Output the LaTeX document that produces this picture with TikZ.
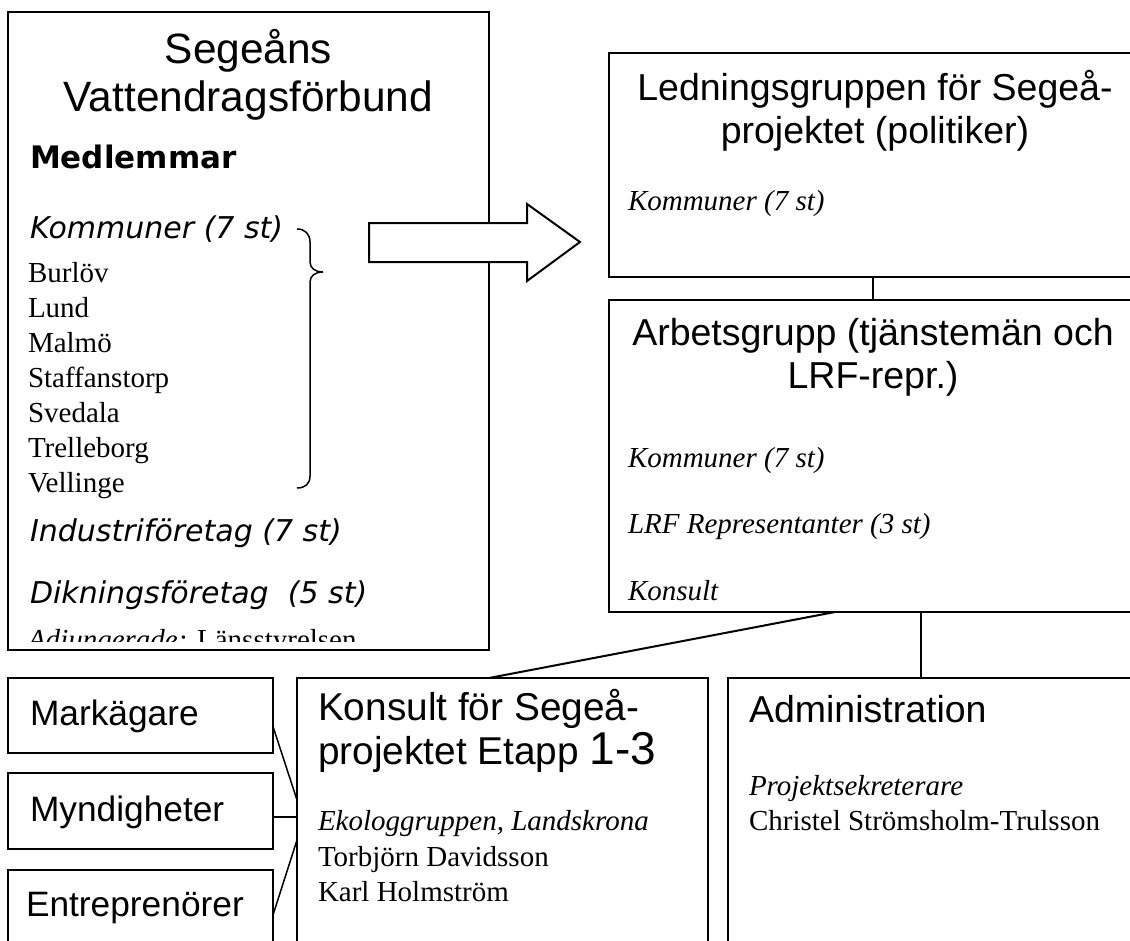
\documentclass[tikz,border=0pt]{standalone}
\usepackage{fontspec}
\setmainfont{Liberation Serif}
\newfontfamily\arialf{Liberation Sans}
\newfontfamily\verdf{DejaVu Sans}
\usetikzlibrary{calc}
\begin{document}
\begin{tikzpicture}[x=1pt,y=-1pt,
  box/.style={draw, line width=2pt, fill=white, rectangle, inner sep=0pt, outer sep=0pt, anchor=north west},
  conn/.style={line width=2pt},
  txt/.style={inner sep=0pt, outer sep=0pt, anchor=base west},
  ctxt/.style={inner sep=0pt, outer sep=0pt, anchor=base},
  bigtitle/.style={font=\arialf\fontsize{42.4}{48}\selectfont},
  title/.style={font=\arialf\fontsize{37.5}{43}\selectfont},
  vbold/.style={font=\verdf\bfseries\fontsize{31}{37}\selectfont},
  vital/.style={font=\verdf\itshape\fontsize{30}{36}\selectfont},
  tnorm/.style={font=\fontsize{29}{35}\selectfont},
  tital/.style={font=\itshape\fontsize{29}{35}\selectfont}
]
\clip (0,0) rectangle (1130,940);
\fill[white] (0,0) rectangle (1130,940);

% left box
\node[box, minimum width=481, minimum height=638] (sv) at (8,12) {};
\node[ctxt, bigtitle] (sv1) at (248.5,63) {Segeåns};
\node[ctxt, bigtitle] (sv2) at (248.5,111) {Vattendragsförbund};
\node[txt, vbold] (med) at (30,168) {Medlemmar};
\node[txt, vital] (kom) at (30,238) {Kommuner (7 st)};
\node[txt, tnorm] (m1) at (28,282) {Burlöv};
\node[txt, tnorm] (m2) at (28,317) {Lund};
\node[txt, tnorm] (m3) at (28,352) {Malmö};
\node[txt, tnorm] (m4) at (28,387) {Staffanstorp};
\node[txt, tnorm] (m5) at (28,422) {Svedala};
\node[txt, tnorm] (m6) at (28,457) {Trelleborg};
\node[txt, tnorm] (m7) at (28,492) {Vellinge};
\node[txt, vital] (ind) at (30,541) {Industriföretag (7 st)};
\node[txt, vital] (dik) at (30,603) {Dikningsföretag~~(5 st)};
\begin{scope}
  \clip (10,14) rectangle (487,641);
  \node[txt, tnorm] (adj) at (28,649) {\itshape Adjungerade:\upshape{} Länsstyrelsen};
\end{scope}

% brace
\draw[line width=1.5pt] (297,229) .. controls (305,229) and (310,234) .. (310,242)
  -- (310,262) .. controls (310,268) and (315,272) .. (323,272)
  .. controls (315,272) and (310,276) .. (310,282)
  -- (310,476) .. controls (310,484) and (305,488) .. (297,488);

% block arrow
\draw[line width=2pt, fill=white, line join=miter] (369,223) -- (527,223) -- (527,204) -- (580,242)
  -- (527,281) -- (527,262) -- (369,262) -- cycle;

% Ledningsgruppen
\node[box, minimum width=528, minimum height=224] (lg) at (609,53) {};
\node[ctxt, title] (lg1) at (875,100) {Ledningsgruppen för Segeå-};
\node[ctxt, title] (lg2) at (875,143) {projektet (politiker)};
\node[txt, tital] (lg3) at (628,210) {Kommuner (7 st)};

% Arbetsgrupp
\node[box, minimum width=528, minimum height=312] (ag) at (609,300) {};
\node[ctxt, title] (ag1) at (873,345) {Arbetsgrupp (tjänstemän och};
\node[ctxt, title] (ag2) at (873,388) {LRF-repr.)};
\node[txt, tital] (ag3) at (628,467) {Kommuner (7 st)};
\node[txt, tital] (ag4) at (628,533) {LRF Representanter (3 st)};
\node[txt, tital] (ag5) at (628,600) {Konsult};

% Konsult
\node[box, minimum width=411, minimum height=330] (ko) at (297,678) {};
\node[txt, font=\arialf\fontsize{38.8}{44}\selectfont] (ko1) at (318,720) {Konsult för Segeå-};
\node[txt, font=\arialf\fontsize{38.8}{44}\selectfont] (ko2) at (318,764) {projektet Etapp {\fontsize{46}{50}\selectfont 1-3}};
\node[txt, tital] (ko3) at (318,830) {Ekologgruppen, Landskrona};
\node[txt, tnorm] (ko4) at (318,866) {Torbjörn Davidsson};
\node[txt, tnorm] (ko5) at (318,901) {Karl Holmström};

% Administration
\node[box, minimum width=420, minimum height=330] (ad) at (728,678) {};
\node[txt, title] (ad1) at (749,722) {Administration};
\node[txt, tital] (ad2) at (749,795) {Projektsekreterare};
\node[txt, tnorm] (ad3) at (749,830) {Christel Strömsholm-Trulsson};

% small boxes
\node[box, minimum width=265, minimum height=75] (mk) at (8,678) {};
\node[box, minimum width=265, minimum height=76] (my) at (8,773) {};
\node[box, minimum width=265, minimum height=100] (en) at (8,870) {};
\node[txt, font=\arialf\fontsize{35.3}{40}\selectfont] (mkt) at (30,725) {Markägare};
\node[txt, font=\arialf\fontsize{35.3}{40}\selectfont] (myt) at (30,821) {Myndigheter};
\node[txt, font=\arialf\fontsize{35.3}{40}\selectfont] (ent) at (26,916) {Entreprenörer};

% connectors
\draw[conn] (lg.south) -- (ag.north);
\draw[conn] ([xshift=-38pt]ag.south) -- ([xshift=-13.5pt]ko.north);
\draw[conn] ([xshift=48pt]ag.south) -- ([xshift=48pt]ag.south |- ad.north);
\draw[conn, line width=1.5pt] ($(mk.east)+(0,11)$) -- ($(ko.north west)+(0,122)$);
\draw[conn, line width=1.5pt] ($(my.east)+(0,6)$) coordinate (myc) -- (myc -| ko.west);
\draw[conn, line width=1.5pt] ($(en.east)+(0,-5)$) -- ($(ko.north west)+(0,162)$);
\end{tikzpicture}
\end{document}
